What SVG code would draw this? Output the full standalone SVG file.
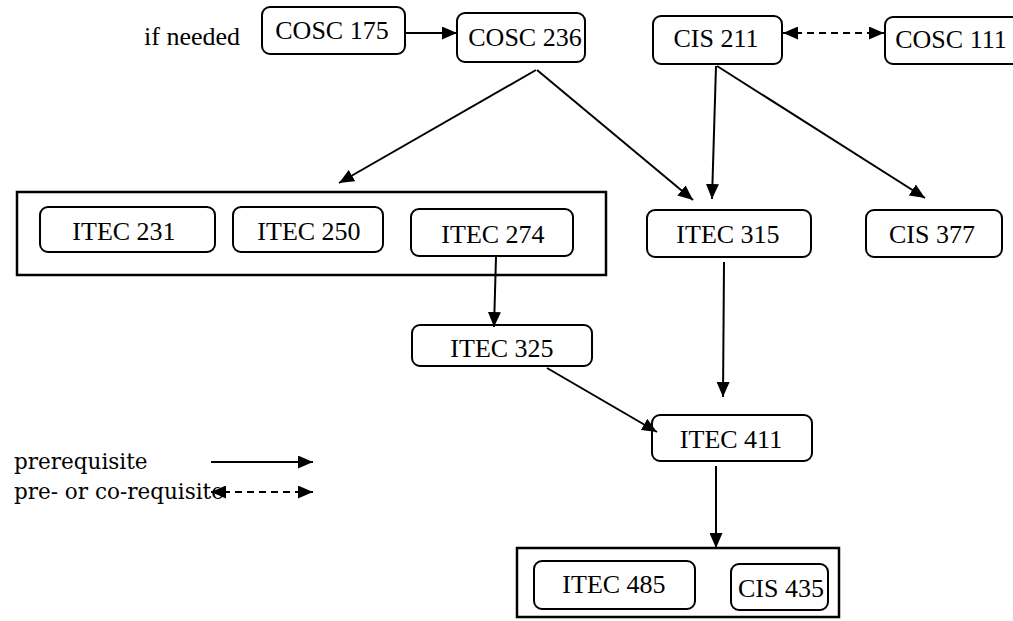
<svg xmlns="http://www.w3.org/2000/svg" width="1013" height="621" viewBox="0 0 1013 621">
<style>
.box{fill:#fff;stroke:#000;stroke-width:2}
.grp{fill:none;stroke:#000;stroke-width:2.5}
.t{font-family:"Liberation Serif","Times New Roman",serif;font-size:26px;fill:#000;text-anchor:middle}
.tl{font-family:"Liberation Serif","Times New Roman",serif;font-size:26px;fill:#000}
.lg{font-family:"DejaVu Serif",serif;font-size:21.5px;fill:#000}
.c{stroke:#000;stroke-width:2;fill:none}
.d{stroke-dasharray:7 5}
</style>
<defs>
<marker id="ah" viewBox="0 0 15 13" refX="15" refY="6.5" markerWidth="15" markerHeight="13" markerUnits="userSpaceOnUse" orient="auto-start-reverse">
<path d="M0,0 L15,6.5 L0,13 Z" fill="#000"/>
</marker>
</defs>
<rect width="1013" height="621" fill="#fff"/>
<text class="tl" x="144" y="45">if needed</text>
<g id="group1"><rect class="grp" x="17" y="192" width="589" height="83"/></g>
<g id="group2"><rect class="grp" x="517" y="548" width="322" height="69"/></g>
<g id="cosc175"><rect class="box" x="262" y="7" width="143" height="47" rx="8"/><text class="t" x="332" y="39">COSC 175</text></g>
<g id="cosc236"><rect class="box" x="457" y="13" width="128" height="49" rx="8"/><text class="t" x="525" y="46">COSC 236</text></g>
<g id="cis211"><rect class="box" x="653" y="16" width="129" height="48" rx="8"/><text class="t" x="716" y="47">CIS 211</text></g>
<g id="cosc111"><rect class="box" x="885" y="17" width="140" height="47" rx="8"/><text class="t" x="951" y="48">COSC 111</text></g>
<g id="itec231"><rect class="box" x="40" y="207" width="175" height="45" rx="8"/><text class="t" x="124" y="240">ITEC 231</text></g>
<g id="itec250"><rect class="box" x="233" y="207" width="150" height="45" rx="8"/><text class="t" x="309" y="240">ITEC 250</text></g>
<g id="itec274"><rect class="box" x="411" y="209" width="162" height="47" rx="8"/><text class="t" x="493" y="243">ITEC 274</text></g>
<g id="itec315"><rect class="box" x="647" y="210" width="164" height="47" rx="8"/><text class="t" x="728" y="243">ITEC 315</text></g>
<g id="cis377"><rect class="box" x="866" y="210" width="136" height="47" rx="8"/><text class="t" x="932" y="243">CIS 377</text></g>
<g id="itec325"><rect class="box" x="412" y="325" width="180" height="41" rx="8"/><text class="t" x="502" y="357">ITEC 325</text></g>
<g id="itec411"><rect class="box" x="652" y="415" width="160" height="46" rx="8"/><text class="t" x="731" y="448">ITEC 411</text></g>
<g id="itec485"><rect class="box" x="534" y="561" width="161" height="48" rx="8"/><text class="t" x="614" y="593">ITEC 485</text></g>
<g id="cis435"><rect class="box" x="731" y="564" width="97" height="46" rx="8"/><text class="t" x="781" y="597">CIS 435</text></g>
<g id="connectors">
<line class="c" x1="405" y1="33" x2="457" y2="33" marker-end="url(#ah)"/>
<line class="c d" x1="783" y1="33" x2="884" y2="33" marker-start="url(#ah)" marker-end="url(#ah)"/>
<line class="c" x1="536" y1="70" x2="339" y2="183" marker-end="url(#ah)"/>
<line class="c" x1="537" y1="70" x2="693" y2="200" marker-end="url(#ah)"/>
<line class="c" x1="716" y1="66" x2="712" y2="199" marker-end="url(#ah)"/>
<line class="c" x1="717" y1="66" x2="925" y2="198" marker-end="url(#ah)"/>
<line class="c" x1="496" y1="257" x2="494" y2="327" marker-end="url(#ah)"/>
<line class="c" x1="724" y1="262" x2="723" y2="397" marker-end="url(#ah)"/>
<line class="c" x1="547" y1="368" x2="657" y2="432" marker-end="url(#ah)"/>
<line class="c" x1="716" y1="466" x2="716" y2="548" marker-end="url(#ah)"/>
<line class="c" x1="211" y1="462" x2="313" y2="462" marker-end="url(#ah)"/>
<line class="c d" x1="211" y1="492" x2="313" y2="492" marker-start="url(#ah)" marker-end="url(#ah)"/>
</g>
<text class="lg" x="14" y="469">prerequisite</text>
<text class="lg" x="14" y="499">pre- or co-requisite</text>
</svg>
